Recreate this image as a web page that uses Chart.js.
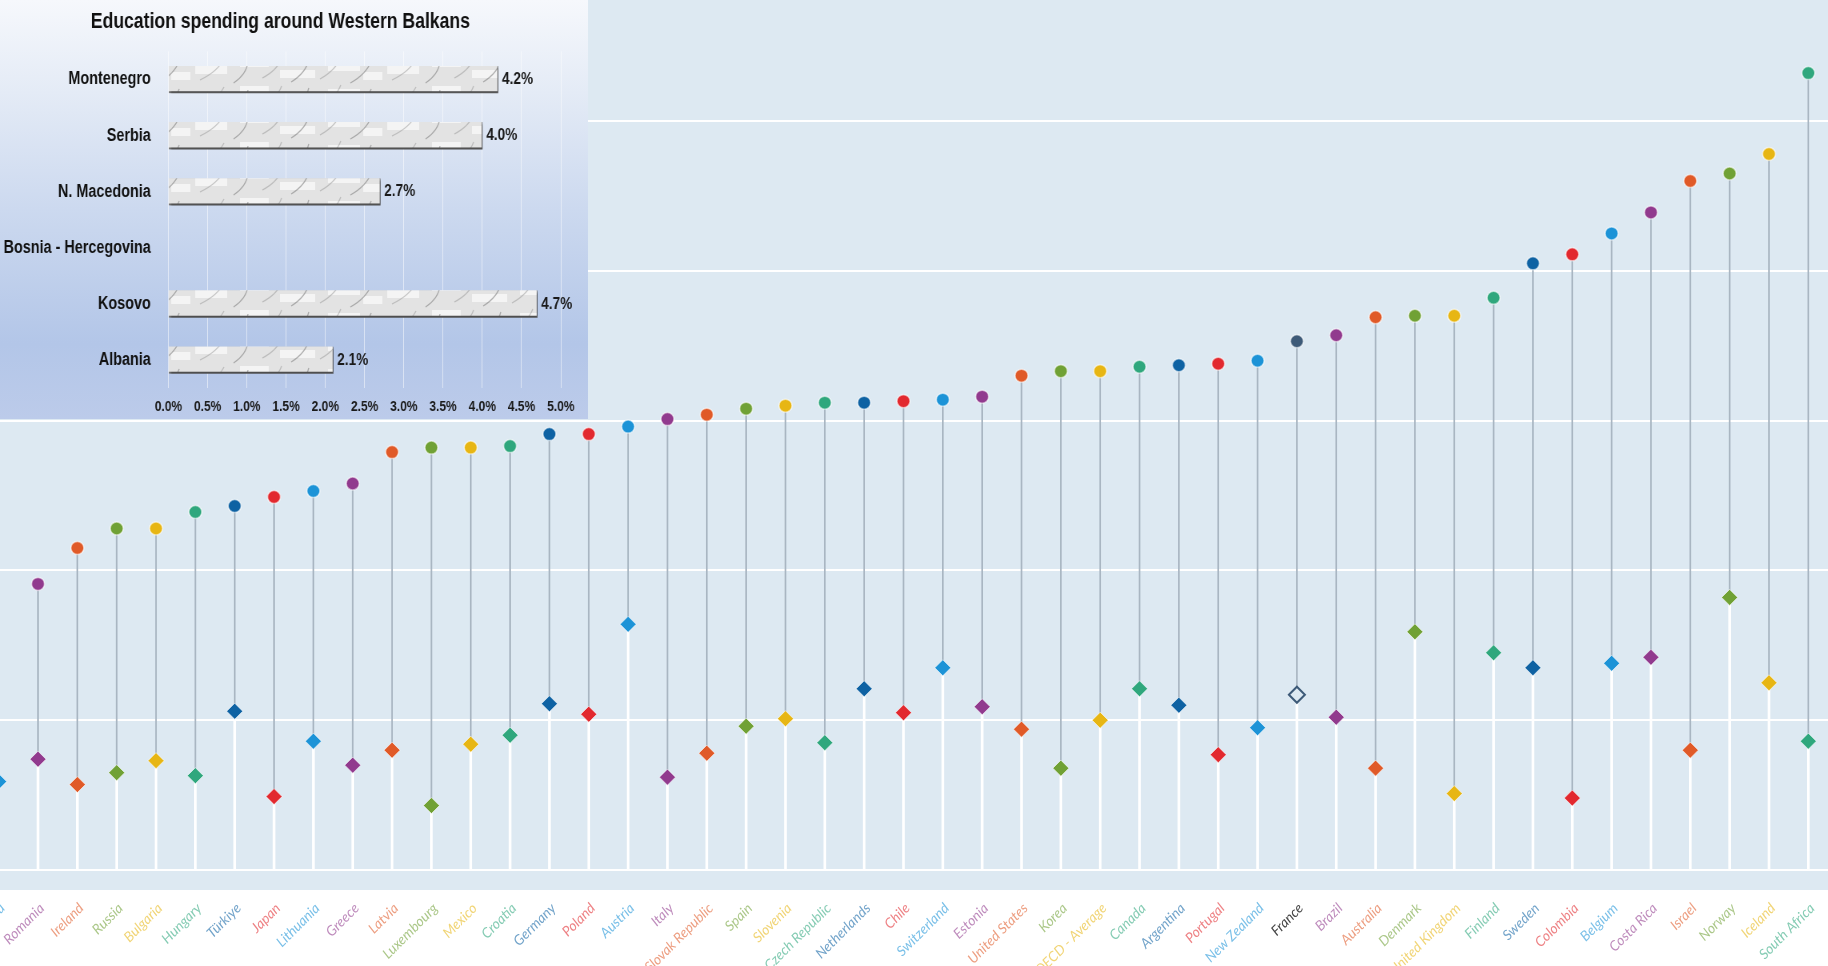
<!DOCTYPE html>
<html>
<head>
<meta charset="utf-8">
<script src="https://cdn.jsdelivr.net/npm/chart.js@4.4.1/dist/chart.umd.min.js"></script>
<style>
  html, body { margin: 0; padding: 0; background: #fff; overflow: hidden; }
  #page { position: relative; width: 1828px; height: 966px; overflow: hidden; }
  #mainChart { position: absolute; left: -21px; top: 0; }
  #inset {
    position: absolute; left: 0; top: 0; width: 588px; height: 419px; overflow: hidden;
    background: linear-gradient(180deg, #f6f8fc 0%, #e4ebf6 22%, #ccd9ef 50%, #b3c6e8 82%, #bccbea 100%);
  }
  /* the inset text is squeezed sideways like in the original picture */
  #insetChart { position: absolute; left: 0; top: 0; transform: scaleX(0.8); transform-origin: 0 0; }
</style>
</head>
<body>
<div id="page">
  <canvas id="mainChart" width="1849" height="966"></canvas>
  <div id="inset"><canvas id="insetChart" width="735" height="419"></canvas></div>
</div>
<script>
// main chart data (y axis has no labels so units = gridline steps)
const countries = ["Peru", "Romania", "Ireland", "Russia", "Bulgaria", "Hungary", "Türkiye", "Japan",
  "Lithuania", "Greece", "Latvia", "Luxembourg", "Mexico", "Croatia", "Germany", "Poland", "Austria",
  "Italy", "Slovak Republic", "Spain", "Slovenia", "Czech Republic", "Netherlands", "Chile",
  "Switzerland", "Estonia", "United States", "Korea", "OECD - Average", "Canada", "Argentina",
  "Portugal", "New Zealand", "France", "Brazil", "Australia", "Denmark", "United Kingdom", "Finland",
  "Sweden", "Colombia", "Belgium", "Costa Rica", "Israel", "Norway", "Iceland", "South Africa"];

const totalSpending = [null, 1.91, 2.15, 2.28, 2.28, 2.39, 2.43, 2.49, 2.53, 2.58,
  2.79, 2.82, 2.82, 2.83, 2.91, 2.91, 2.96, 3.01, 3.04, 3.08,
  3.10, 3.12, 3.12, 3.13, 3.14, 3.16, 3.30, 3.33, 3.33, 3.36,
  3.37, 3.38, 3.40, 3.53, 3.57, 3.69, 3.70, 3.70, 3.82, 4.05,
  4.11, 4.25, 4.39, 4.60, 4.65, 4.78, 5.32];

const otherSpending = [0.59, 0.74, 0.57, 0.65, 0.73, 0.63, 1.06, 0.49, 0.86, 0.70,
  0.80, 0.43, 0.84, 0.90, 1.11, 1.04, 1.64, 0.62, 0.78, 0.96,
  1.01, 0.85, 1.21, 1.05, 1.35, 1.09, 0.94, 0.68, 1.00, 1.21,
  1.10, 0.77, 0.95, 1.17, 1.02, 0.68, 1.59, 0.51, 1.45, 1.35,
  0.48, 1.38, 1.42, 0.80, 1.82, 1.25, 0.86];

// inset data
const balkanCountries = ["Montenegro", "Serbia", "N. Macedonia", "Bosnia - Hercegovina", "Kosovo", "Albania"];
const balkanSpending = [4.2, 4.0, 2.7, null, 4.7, 2.1];

// colours
const PURPLE = "#913a8e", ORANGE = "#e05a28", OLIVE = "#70a135", YELLOW = "#e7b614",
  TEAL = "#2fa77d", DKBLUE = "#0e62a3", RED = "#e2292f", LTBLUE = "#1c93d7", SLATE = "#3d5a78";
const pointColors = [LTBLUE, PURPLE, ORANGE, OLIVE, YELLOW, TEAL, DKBLUE, RED, LTBLUE,
  PURPLE, ORANGE, OLIVE, YELLOW, TEAL, DKBLUE, RED, LTBLUE,
  PURPLE, ORANGE, OLIVE, YELLOW, TEAL, DKBLUE, RED, LTBLUE,
  PURPLE, ORANGE, OLIVE, YELLOW, TEAL, DKBLUE, RED, LTBLUE,
  SLATE, PURPLE, ORANGE, OLIVE, YELLOW, TEAL, DKBLUE, RED, LTBLUE,
  PURPLE, ORANGE, OLIVE, YELLOW, TEAL];
const PLOT_BG = "#dde9f2";

function fade(hex, amt) {
  const n = parseInt(hex.slice(1), 16);
  const r = (n >> 16) & 255, g = (n >> 8) & 255, b = n & 255;
  const m = v => Math.round(v + (255 - v) * amt);
  return "rgb(" + m(r) + "," + m(g) + "," + m(b) + ")";
}

// background of the plot area, a bit deeper than the axis line
const plotBackground = {
  id: "plotBackground",
  beforeDraw(chart) {
    const { ctx, chartArea } = chart;
    ctx.save();
    ctx.fillStyle = PLOT_BG;
    ctx.fillRect(chartArea.left, chartArea.top, chartArea.right - chartArea.left, chartArea.bottom - chartArea.top + 20);
    ctx.restore();
  }
};

const grayStems = totalSpending.map((v, i) => v == null ? null : [otherSpending[i], v]);
const whiteStems = otherSpending.map(v => [0, v]);

new Chart(document.getElementById("mainChart"), {
  data: {
    labels: countries,
    datasets: [
      {
        type: "line", data: totalSpending, showLine: false, order: 0,
        pointStyle: "circle", pointRadius: 6.5,
        pointBackgroundColor: pointColors, pointBorderColor: "rgba(255,255,255,0.55)", pointBorderWidth: 1.5
      },
      {
        type: "line", data: otherSpending, showLine: false, order: 0,
        pointStyle: "rectRot", pointRadius: 8,
        pointBackgroundColor: pointColors.map(c => c === SLATE ? PLOT_BG : c),
        pointBorderColor: pointColors.map(c => c === SLATE ? SLATE : "rgba(255,255,255,0.55)"),
        pointBorderWidth: pointColors.map(c => c === SLATE ? 2 : 1)
      },
      { type: "bar", data: grayStems, backgroundColor: "#a9b6c2", barThickness: 1, grouped: false, order: 2 },
      { type: "bar", data: whiteStems, backgroundColor: "#ffffff", barThickness: 2, grouped: false, order: 2 }
    ]
  },
  options: {
    responsive: false,
    animation: false,
    events: [],
    layout: { padding: 0, autoPadding: false },
    plugins: { legend: { display: false }, tooltip: { enabled: false } },
    scales: {
      x: {
        offset: true,
        grid: { display: false },
        border: { display: false },
        afterFit(scale) { scale.height = 96; scale.paddingLeft = 0; scale.paddingRight = 0; },
        ticks: {
          autoSkip: false, maxRotation: 45, minRotation: 45, padding: 22, labelOffset: 4,
          font: { family: "Lato", style: "italic", size: 14 },
          color: ctx => pointColors[ctx.index] === SLATE ? "#454545" : fade(pointColors[ctx.index], 0.42)
        }
      },
      y: {
        min: 0, max: 5.808,
        border: { display: false },
        grid: { color: "#ffffff", lineWidth: 2, drawTicks: false },
        afterFit(scale) { scale.width = 0; scale.paddingTop = 0; scale.paddingBottom = 0; },
        ticks: { display: false, stepSize: 1, includeBounds: false }
      }
    }
  },
  plugins: [plotBackground]
});

// ---- inset: Western Balkans bars (canvas units are 1.25x the page width) ----
function marblePattern(ctx) {
  const c = document.createElement("canvas");
  c.width = 240; c.height = 28;
  const g = c.getContext("2d");
  g.fillStyle = "#e3e3e3";
  g.fillRect(0, 0, 240, 28);
  g.fillStyle = "rgba(255,255,255,0.6)";
  [[4, 8, 40, 10], [60, 2, 36, 9], [110, 14, 44, 8], [170, 5, 40, 10], [214, 16, 24, 8]].forEach(([x, y, w, h]) => g.fillRect(x, y, w, h));
  const veins = [[10, 24, 40, 3], [52, 27, 70, 6], [88, 22, 112, 2], [124, 26, 146, 4], [160, 23, 186, 1], [198, 27, 224, 5]];
  g.lineWidth = 1.3;
  veins.forEach(([x1, y1, x2, y2], k) => {
    g.strokeStyle = k % 2 ? "rgba(120,120,120,0.55)" : "rgba(150,150,150,0.5)";
    g.beginPath();
    g.moveTo(x1, y1);
    g.quadraticCurveTo((x1 + x2) / 2 + 7, (y1 + y2) / 2 + 2, x2, y2);
    g.stroke();
  });
  return ctx.createPattern(c, "repeat");
}

const SANS = "'Liberation Sans', Arial, sans-serif";

const barShadow = {
  id: "barShadow",
  beforeDatasetDraw(chart) {
    const ctx = chart.ctx;
    ctx.save();
    ctx.shadowColor = "rgba(0,0,0,0.55)";
    ctx.shadowBlur = 3;
    ctx.shadowOffsetX = 2;
    ctx.shadowOffsetY = 2;
  },
  afterDatasetDraw(chart) { chart.ctx.restore(); },
  afterDatasetsDraw(chart) {
    const ctx = chart.ctx;
    const meta = chart.getDatasetMeta(0);
    ctx.save();
    ctx.font = "bold 17px " + SANS;
    ctx.fillStyle = "#1a1a1a";
    ctx.textBaseline = "middle";
    ctx.textAlign = "left";
    meta.data.forEach((bar, i) => {
      const v = balkanSpending[i];
      if (v == null) return;
      ctx.fillText(v.toFixed(1) + "%", bar.x + 5, bar.y);
    });
    ctx.restore();
  }
};

const insetCtx = document.getElementById("insetChart").getContext("2d");
new Chart(insetCtx, {
  type: "bar",
  data: {
    labels: balkanCountries,
    datasets: [{
      data: balkanSpending,
      backgroundColor: marblePattern(insetCtx),
      borderColor: "#8a8a8a",
      borderWidth: { top: 0, left: 0, right: 1, bottom: 2 },
      borderSkipped: false,
      barThickness: 27
    }]
  },
  options: {
    indexAxis: "y",
    responsive: false,
    animation: false,
    events: [],
    layout: { padding: { top: 0, right: 34, bottom: 0, left: 0 }, autoPadding: false },
    plugins: {
      legend: { display: false },
      tooltip: { enabled: false },
      title: {
        display: true,
        text: "Education spending around Western Balkans",
        color: "#111111",
        font: { family: SANS, size: 22, weight: "bold" },
        padding: { top: 9, bottom: 16 }
      }
    },
    scales: {
      x: {
        min: 0, max: 5,
        border: { display: false },
        grid: { color: "rgba(255,255,255,0.55)", lineWidth: 1, drawTicks: false },
        afterFit(scale) { scale.height = 31; scale.paddingLeft = 0; scale.paddingRight = 0; },
        ticks: {
          stepSize: 0.5, padding: 10, color: "#1a1a1a",
          font: { family: SANS, size: 15, weight: "bold" },
          callback: v => v.toFixed(1) + "%"
        }
      },
      y: {
        border: { display: false },
        grid: { display: false },
        afterFit(scale) { scale.width = 210.5; scale.paddingTop = 0; scale.paddingBottom = 0; },
        ticks: { padding: 14, color: "#111111", font: { family: SANS, size: 18, weight: "bold" } }
      }
    }
  },
  plugins: [barShadow]
});
</script>
</body>
</html>
